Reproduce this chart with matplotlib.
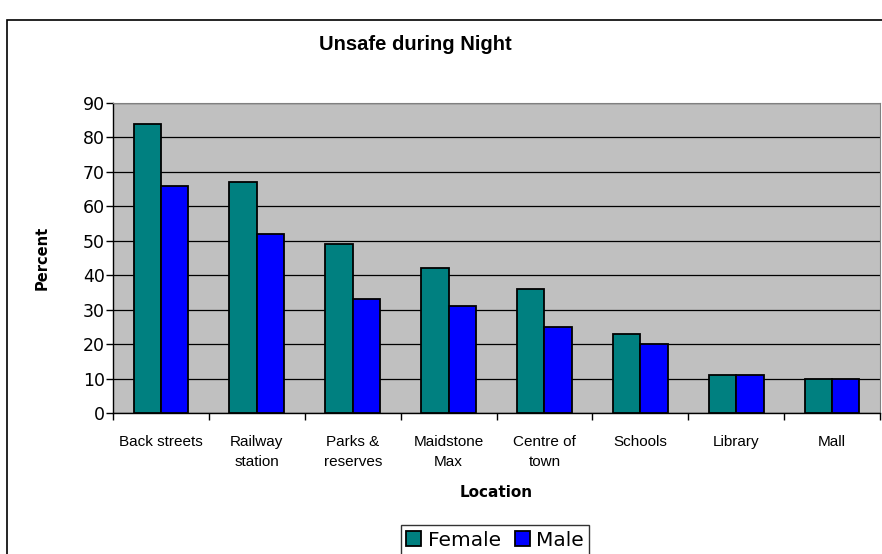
import numpy as np
import matplotlib.pyplot as plt
from matplotlib.patches import Rectangle

locations = ['Back streets', 'Railway\nstation', 'Parks &\nreserves', 'Maidstone\nMax',
             'Centre of\ntown', 'Schools', 'Library', 'Mall']
female = [84, 67, 49, 42, 36, 23, 11, 10]
male = [66, 52, 33, 31, 25, 20, 11, 10]

plt.rcParams['font.family'] = ['Liberation Sans', 'DejaVu Sans']
wide = ['DejaVu Sans']

fig = plt.figure(figsize=(8.82, 5.54), dpi=100)
ax = fig.add_axes([113/882, 1-413/554, (880-113)/882, (413-103)/554])
ax.set_facecolor('#C0C0C0')

x = np.arange(len(locations))
w = 1/3.5
ax.bar(x - w/2, female, w, color='#008080', edgecolor='black', linewidth=1.3, label='Female', zorder=3)
ax.bar(x + w/2, male, w, color='#0000FF', edgecolor='black', linewidth=1.3, label='Male', zorder=3)

ax.set_xlim(-0.5, len(locations) - 0.5)
ax.set_ylim(0, 90)
ax.set_yticks(range(0, 91, 10))
ax.set_yticklabels([str(v) for v in range(0, 91, 10)], family=wide, fontsize=12.5)
ax.yaxis.grid(True, color='black', linewidth=0.9, zorder=1)
ax.set_axisbelow(True)
ax.tick_params(axis='y', length=5, width=1, pad=1)

ax.set_xticks(x)
ax.set_xticklabels(locations, fontsize=11, linespacing=1.5)
ax.set_xticks(np.arange(-0.5, len(locations)), minor=True)
ax.tick_params(axis='x', which='major', length=0, pad=16)
ax.tick_params(axis='x', which='minor', length=5, width=1)

for s in ['top', 'right']:
    ax.spines[s].set_color('#808080')
for s in ['left', 'bottom']:
    ax.spines[s].set_linewidth(1)

ax.set_xlabel('Location', family=wide, fontsize=11, fontweight='bold', labelpad=12)
ax.set_ylabel('Percent', family=wide, fontsize=10.5, fontweight='bold', labelpad=24)
fig.text(415/882, 1-45/554, 'Unsafe during Night', fontsize=14.5,
         fontweight='bold', ha='center', va='center')

leg = ax.legend(loc='center', bbox_to_anchor=(495/882, 1-540/554), bbox_transform=fig.transFigure,
                ncol=2, frameon=True, fancybox=False, edgecolor='black',
                prop={'family': wide, 'size': 14.5},
                handlelength=0.75, handleheight=0.75, handletextpad=0.3, columnspacing=0.7,
                borderpad=0.25)
leg.get_frame().set_linewidth(1)

fig.patches.append(Rectangle((7/882, -0.1), 2, 1 - 20/554 + 0.1, transform=fig.transFigure,
                             fill=False, edgecolor='black', linewidth=1.2))

fig.savefig('out.png', dpi=100)
